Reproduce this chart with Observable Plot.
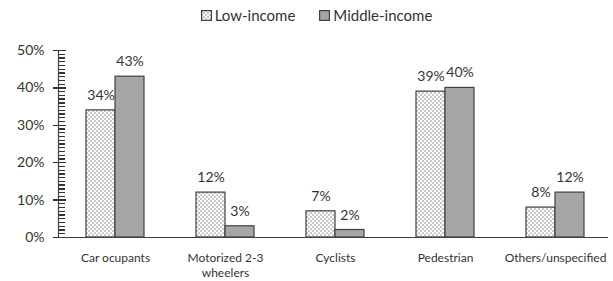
<!DOCTYPE html>
<html>
<head>
<meta charset="utf-8">
<script src="https://cdn.jsdelivr.net/npm/d3@7"></script>
<script src="https://cdn.jsdelivr.net/npm/@observablehq/plot@0.6"></script>
<style>
  html, body { margin: 0; padding: 0; background: #fff; }
  body { width: 613px; height: 281px; overflow: hidden; font-family: Lato, "Open Sans", sans-serif; color: #333; }
  #legend { height: 30px; display: flex; align-items: center; justify-content: center; font-size: 15px; gap: 24px; padding-left: 20px; box-sizing: border-box; }
  #legend span.item { display: inline-flex; align-items: center; gap: 3px; }
  #legend svg { display: block; }
</style>
</head>
<body>
<div id="legend"></div>
<div id="chart"></div>
<script>
const categories = ["Car ocupants", "Motorized 2-3\nwheelers", "Cyclists", "Pedestrian", "Others/unspecified"];
const series = ["Low-income", "Middle-income"];
const lowIncome = [34, 12, 7, 39, 8];
const middleIncome = [43, 3, 2, 40, 12];
const majorTicks = [0, 10, 20, 30, 40, 50];

const fills = {"Low-income": "url(#dots)", "Middle-income": "#a6a6a6"};
const ink = "#404040";

const rows = [];
categories.forEach((c, i) => {
  rows.push({cat: c, series: series[0], value: lowIncome[i]});
  rows.push({cat: c, series: series[1], value: middleIncome[i]});
});
const lowRows = rows.filter(d => d.series === series[0]);
const midRows = rows.filter(d => d.series === series[1]);
const minorTicks = d3.range(0, 51).filter(v => v % 10 !== 0);

const plot = Plot.plot({
  width: 613,
  height: 251,
  marginTop: 20,
  marginBottom: 44,
  marginLeft: 58,
  marginRight: 2,
  style: {fontFamily: "Lato, 'Open Sans', sans-serif", color: "#333", background: "#fff"},
  x: {domain: categories, paddingInner: 0.476, paddingOuter: 0.238, label: null},
  y: {domain: [0, 50], label: null},
  marks: [
    Plot.ruleY(minorTicks, {y: d => d, stroke: "#333", strokeWidth: 1.3, insetRight: 546, shapeRendering: "crispEdges"}),
    Plot.ruleY(majorTicks, {y: d => d, stroke: "#333", strokeWidth: 1.3, insetRight: 545, shapeRendering: "crispEdges"}),
    Plot.axisY({ticks: majorTicks, tickFormat: d => d + "%", tickSize: 5, tickPadding: 9, fontSize: 14, stroke: "#333", strokeWidth: 1.3, fill: "#333", label: null, shapeRendering: "crispEdges"}),
    Plot.axisX({tickSize: 0, tickPadding: 14, fontSize: 12, fill: "#333", label: null, lineHeight: 1.25}),
    Plot.barY(lowRows, {x: "cat", y: "value", fill: fills["Low-income"], stroke: ink, strokeWidth: 1.2, insetRight: 29}),
    Plot.barY(midRows, {x: "cat", y: "value", fill: fills["Middle-income"], stroke: ink, strokeWidth: 1.2, insetLeft: 29}),
    Plot.text(lowRows, {x: "cat", y: "value", text: d => d.value + "%", dx: -14.5, dy: -15, fontSize: 14, fill: "#333"}),
    Plot.text(midRows, {x: "cat", y: "value", text: d => d.value + "%", dx: 14.5, dy: -15, fontSize: 14, fill: "#333"}),
    Plot.ruleY([0], {stroke: ink, strokeWidth: 1.2, insetRight: 3}),
    Plot.frame({anchor: "left", stroke: ink, strokeWidth: 1.2})
  ]
});

const ns = "http://www.w3.org/2000/svg";
const defs = document.createElementNS(ns, "defs");
defs.innerHTML = `<pattern id="dots" patternUnits="userSpaceOnUse" width="4" height="4">
  <rect width="4" height="4" fill="#ffffff"/>
  <circle cx="1" cy="1" r="0.7" fill="#666"/>
  <circle cx="3" cy="3" r="0.7" fill="#666"/>
</pattern>`;
plot.insertBefore(defs, plot.firstChild);
document.getElementById("chart").appendChild(plot);

const legend = document.getElementById("legend");
series.forEach(s => {
  const item = document.createElement("span");
  item.className = "item";
  item.innerHTML = `<svg width="11" height="11"><rect x="0.6" y="0.6" width="9.8" height="9.8" fill="${fills[s]}" stroke="${ink}" stroke-width="1.2"/></svg><span>${s}</span>`;
  legend.appendChild(item);
});
</script>
</body>
</html>
